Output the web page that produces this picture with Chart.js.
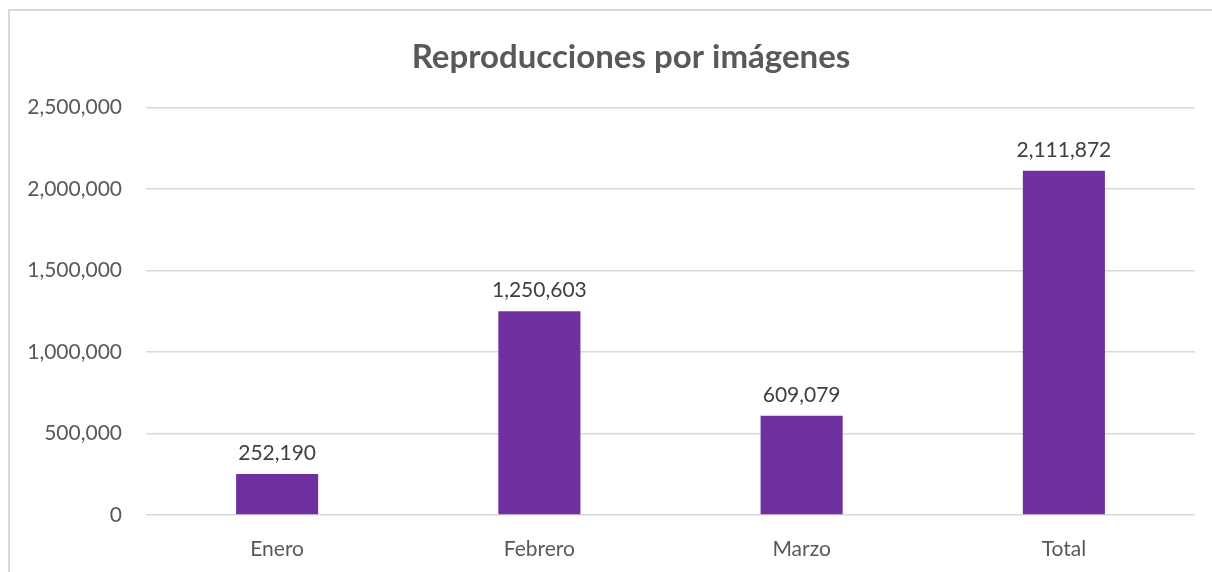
<!DOCTYPE html>
<html>
<head>
<meta charset="utf-8">
<script src="https://cdn.jsdelivr.net/npm/chart.js@4.4.0/dist/chart.umd.min.js"></script>
<style>
  html, body { margin: 0; padding: 0; background: #fff; }
  #wrap { position: relative; width: 1212px; height: 572px; overflow: hidden; }
  #marco { position: absolute; left: 8px; top: 9px; width: 1300px; height: 700px;
           border-left: 2px solid #d9d9d9; border-top: 2px solid #d9d9d9; }
  canvas { position: absolute; left: 0; top: 0; }
</style>
</head>
<body>
<div id="wrap">
  <div id="marco"></div>
  <canvas id="grafico" width="1212" height="572"></canvas>
</div>
<script>
const CATEGORIAS = ['Enero', 'Febrero', 'Marzo', 'Total'];
const REPRODUCCIONES = [252190, 1250603, 609079, 2111872];
const TICKS_Y = [0, 500000, 1000000, 1500000, 2000000, 2500000];

const FUENTE = 'Lato, "Open Sans", sans-serif';
const fmt = v => v.toLocaleString('en-US');

// etiquetas de datos encima de cada barra
const etiquetasBarras = {
  id: 'etiquetasBarras',
  afterDatasetsDraw(chart) {
    const ctx = chart.ctx;
    const meta = chart.getDatasetMeta(0);
    ctx.save();
    ctx.font = '21px ' + FUENTE;
    ctx.fillStyle = '#404040';
    ctx.textAlign = 'center';
    ctx.textBaseline = 'alphabetic';
    meta.data.forEach((bar, i) => {
      ctx.fillText(fmt(REPRODUCCIONES[i]), bar.x, bar.y - 14);
    });
    ctx.restore();
  }
};

// el marco del gráfico sigue más allá del borde derecho: el título se centra en él
const tituloCentrado = {
  id: 'tituloCentrado',
  afterLayout(chart) {
    const t = chart.titleBlock;
    if (!t) return;
    t.left = 67;
    t.width = t.right - t.left;
  }
};

new Chart(document.getElementById('grafico'), {
  type: 'bar',
  data: {
    labels: CATEGORIAS,
    datasets: [{
      data: REPRODUCCIONES,
      backgroundColor: '#7030A0',
      borderWidth: 0,
      categoryPercentage: 1,
      barPercentage: 0.313
    }]
  },
  options: {
    responsive: false,
    animation: false,
    layout: { padding: { left: 0, right: 17, top: 0, bottom: 0 } },
    plugins: {
      legend: { display: false },
      tooltip: { enabled: false },
      title: {
        display: true,
        text: 'Reproducciones por imágenes',
        color: '#595959',
        font: { family: FUENTE, size: 33, weight: 'bold', lineHeight: 1.2 },
        padding: { top: 38, bottom: 30 }
      }
    },
    scales: {
      x: {
        grid: { display: false },
        border: { display: false },
        ticks: { color: '#595959', font: { family: FUENTE, size: 21 }, padding: 14 },
        afterFit: s => { s.height = 57; }
      },
      y: {
        min: 0,
        max: 2500000,
        afterBuildTicks: s => { s.ticks = TICKS_Y.map(v => ({ value: v })); },
        grid: { color: '#d9d9d9', lineWidth: 1.5, drawTicks: false },
        border: { display: false },
        ticks: { color: '#595959', font: { family: FUENTE, size: 21 }, padding: 24,
                 callback: v => fmt(v) },
        afterFit: s => { s.width = 146; }
      }
    }
  },
  plugins: [etiquetasBarras, tituloCentrado]
});
</script>
</body>
</html>
